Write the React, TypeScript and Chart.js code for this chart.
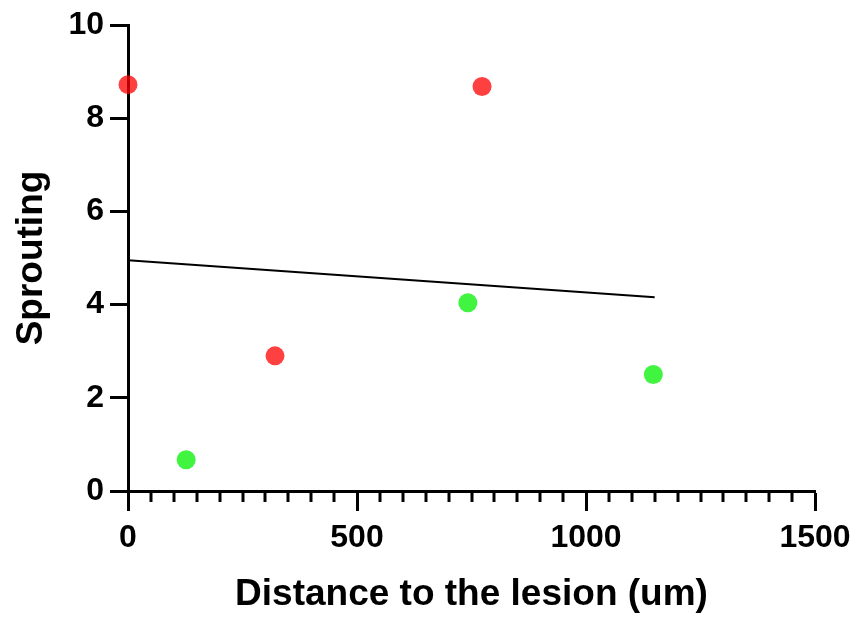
import React, { useEffect, useRef } from "react";
import { Chart, registerables } from "chart.js";

Chart.register(...registerables);

const redX = [0, 321, 773];
const redY = [8.72, 2.9, 8.68];
const greenX = [127, 742, 1147];
const greenY = [0.67, 4.04, 2.5];
const fitX = [0, 1150];
const fitY = [4.95, 4.16];
const xMajorTicks = [0, 500, 1000, 1500];
const yTicks = [0, 2, 4, 6, 8, 10];

const FONT = "'Liberation Sans', Arial, sans-serif";

const minorTicks = {
  id: "minorTicks",
  beforeDatasetsDraw(chart: any) {
    const x = chart.scales.x;
    const y = chart.scales.y;
    const ctx = chart.ctx;
    const y0 = y.getPixelForValue(0);
    ctx.save();
    ctx.strokeStyle = "#000";
    ctx.lineWidth = 3;
    for (let v = 50; v < 1500; v += 50) {
      if (v % 500 === 0) continue;
      const px = Math.round(x.getPixelForValue(v));
      ctx.beginPath();
      ctx.moveTo(px, y0);
      ctx.lineTo(px, y0 + 11);
      ctx.stroke();
    }
    ctx.restore();
  },
};

export default function App() {
  const ref = useRef<HTMLCanvasElement>(null);
  useEffect(() => {
    document.body.style.margin = "0";
    const ctx = ref.current!.getContext("2d")!;
    const chart = new Chart(ctx, {
      type: "scatter",
      data: {
        datasets: [
          {
            type: "line",
            data: fitX.map((x, i) => ({ x, y: fitY[i] })),
            borderColor: "#000",
            borderWidth: 2,
            pointRadius: 0,
            fill: false,
            clip: false as any,
          },
          {
            data: redX.map((x, i) => ({ x, y: redY[i] })),
            backgroundColor: "rgba(255,0,0,0.75)",
            borderWidth: 0,
            pointRadius: 9.5,
            clip: false as any,
          },
          {
            data: greenX.map((x, i) => ({ x, y: greenY[i] })),
            backgroundColor: "rgba(0,240,0,0.75)",
            borderWidth: 0,
            pointRadius: 9.5,
            clip: false as any,
          },
        ],
      },
      options: {
        responsive: false,
        animation: false,
        events: [],
        layout: { padding: { top: 25, right: 40, left: 0, bottom: 0 } },
        plugins: { legend: { display: false }, tooltip: { enabled: false } },
        scales: {
          x: {
            type: "linear",
            min: 0,
            max: 1500,
            afterBuildTicks: (s: any) => {
              s.ticks = xMajorTicks.map((v) => ({ value: v }));
            },
            afterFit: (s: any) => {
              s.height = 126;
              s.paddingLeft = 0;
              s.paddingRight = 0;
            },
            ticks: {
              color: "#000",
              font: { family: FONT, size: 32, weight: "bold" },
              padding: 8,
              maxRotation: 0,
              autoSkip: false,
              callback: (v: any) => String(v),
            },
            grid: {
              drawOnChartArea: false,
              drawTicks: true,
              tickLength: 20,
              tickWidth: 3,
              tickColor: "#000",
            },
            border: { display: true, color: "#000", width: 3 },
            title: {
              display: true,
              text: "Distance to the lesion (um)",
              color: "#000",
              font: { family: FONT, size: 37, weight: "bold" },
              padding: { top: 0, bottom: 0 },
            },
          },
          y: {
            type: "linear",
            min: 0,
            max: 10,
            afterBuildTicks: (s: any) => {
              s.ticks = yTicks.map((v) => ({ value: v }));
            },
            afterFit: (s: any) => {
              s.width = 128;
              s.paddingTop = 0;
              s.paddingBottom = 0;
            },
            ticks: {
              color: "#000",
              font: { family: FONT, size: 32, weight: "bold" },
              padding: 6,
              autoSkip: false,
              callback: (v: any) => String(v),
            },
            grid: {
              drawOnChartArea: false,
              drawTicks: true,
              tickLength: 18,
              tickWidth: 3,
              tickColor: "#000",
            },
            border: { display: true, color: "#000", width: 3 },
            title: {
              display: true,
              text: "Sprouting",
              color: "#000",
              font: { family: FONT, size: 37, weight: "bold" },
              padding: { top: 10, bottom: 0 },
            },
          },
        },
      },
      plugins: [minorTicks],
    });
    return () => chart.destroy();
  }, []);
  return (
    <div style={{ width: 855, height: 617 }}>
      <canvas ref={ref} width={855} height={617} style={{ display: "block" }} />
    </div>
  );
}
